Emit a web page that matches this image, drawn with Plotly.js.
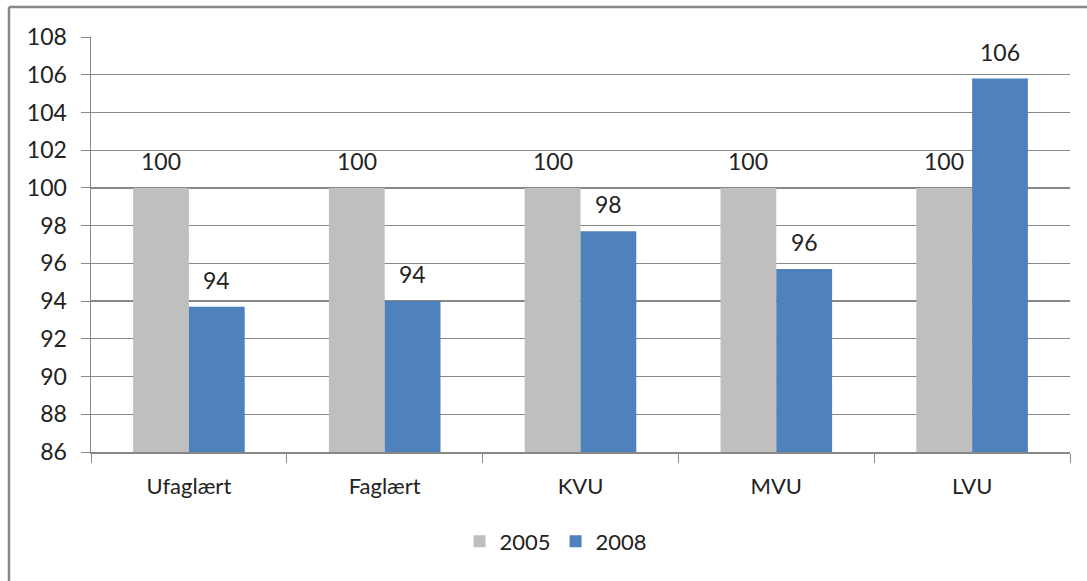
<!DOCTYPE html>
<html>
<head>
<meta charset="utf-8">
<script src="https://cdn.plot.ly/plotly-3.0.1.min.js"></script>
<style>html,body{margin:0;padding:0;background:#fff;}#chart{width:1087px;height:581px;}</style>
</head>
<body>
<div id="chart"></div>
<script>
const categories = ["Ufaglært", "Faglært", "KVU", "MVU", "LVU"];
const seriesNames = ["2005", "2008"];
const values2005 = [100, 100, 100, 100, 100];
const values2008 = [93.7, 94.0, 97.7, 95.7, 105.8];
const yTicks = [86, 88, 90, 92, 94, 96, 98, 100, 102, 104, 106, 108];

const FONT = "Lato, 'Open Sans', sans-serif";
const W = 1087, H = 581;
const m = {l: 91, r: 17, t: 37, b: 129};
const pw = W - m.l - m.r, ph = H - m.t - m.b;
const colors = ["#BFBFBF", "#4F81BD"];

function mk(name, vals, color) {
  return {
    type: "bar", name: name, x: categories, y: vals,
    marker: {color: color, line: {width: 0}},
    hoverinfo: "skip"
  };
}

const data = [
  mk(seriesNames[0], values2005, colors[0]),
  mk(seriesNames[1], values2008, colors[1])
];

// value labels above bars (offset half a bar width to each side)
const annotations = [];
[values2005, values2008].forEach((vals, s) => {
  vals.forEach((v, i) => {
    annotations.push({
      x: categories[i], y: v, xref: "x", yref: "y",
      text: String(Math.round(v)), showarrow: false,
      xanchor: "center", yanchor: "bottom",
      xshift: s === 0 ? -28 : 28, yshift: 11,
      font: {family: FONT, size: 23, color: "#222"}
    });
  });
});

const layout = {
  width: W, height: H,
  margin: m,
  paper_bgcolor: "#fff", plot_bgcolor: "#fff",
  barmode: "group", bargap: 0.43, bargroupgap: 0,
  font: {family: FONT, size: 22, color: "#222"},
  showlegend: true,
  legend: {orientation: "h", x: 0.475, xanchor: "center", y: -0.165, yanchor: "top",
           font: {family: FONT, size: 22, color: "#222"}, traceorder: "normal"},
  xaxis: {
    type: "category", tickson: "boundaries", ticks: "outside", ticklen: 9,
    tickcolor: "#888", showline: true, linecolor: "#888", linewidth: 1.5,
    showgrid: false, tickfont: {family: FONT, size: 22, color: "#222"},
    ticklabelstandoff: 14, fixedrange: true
  },
  yaxis: {
    range: [86, 108], tickvals: yTicks, ticktext: yTicks.map(String),
    ticks: "outside", ticklen: 9, tickcolor: "#888",
    showline: true, linecolor: "#888", linewidth: 1.5,
    showgrid: true, gridcolor: "#888", gridwidth: 1.2, zeroline: false,
    tickfont: {family: FONT, size: 23, color: "#222"}, ticklabelstandoff: 9,
    fixedrange: true
  },
  annotations: annotations,
  shapes: [
    {type: "line", xref: "paper", yref: "paper",
     x0: (9 - m.l) / pw, x1: (W - m.l + 5) / pw,
     y0: 1 + (m.t - 7) / ph, y1: 1 + (m.t - 7) / ph,
     line: {color: "#888", width: 2.5}},
    {type: "line", xref: "paper", yref: "paper",
     x0: (9 - m.l) / pw, x1: (9 - m.l) / pw,
     y0: 1 + (m.t - 7) / ph, y1: -(m.b + 5) / ph,
     line: {color: "#888", width: 2.5}}
  ]
};

Plotly.newPlot("chart", data, layout, {displayModeBar: false, staticPlot: true});
</script>
</body>
</html>
